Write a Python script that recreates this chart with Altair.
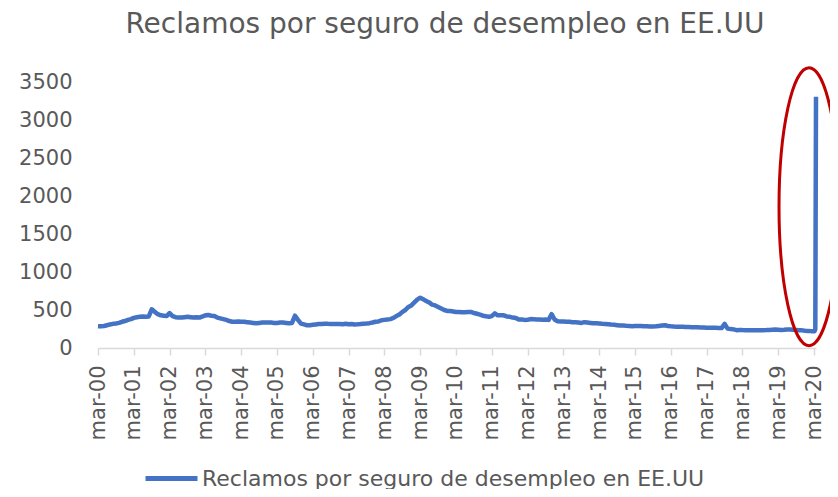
import altair as alt
import pandas as pd

titulo = "Reclamos por seguro de desempleo en EE.UU"
serie = "Reclamos por seguro de desempleo en EE.UU"

# Reclamos (miles), valores mensuales
r2000 = [287, 285, 290, 300, 310, 318, 322, 330, 345, 355]  # mar-dic
r2001 = [370, 380, 396, 405, 410, 415, 410, 415, 510, 475, 445, 430]
r2002 = [425, 420, 460, 420, 405, 400, 400, 405, 410, 405, 400, 405]
r2003 = [400, 415, 430, 435, 425, 420, 400, 390, 380, 370, 355, 345]
r2004 = [345, 350, 345, 345, 340, 335, 330, 325, 330, 335, 335, 335]
r2005 = [335, 330, 330, 335, 335, 330, 325, 330, 425, 370, 320, 310]
r2006 = [300, 300, 305, 310, 315, 315, 320, 318, 317, 315, 317, 315]
r2007 = [313, 320, 313, 315, 310, 312, 315, 320, 322, 327, 335, 345]
r2008 = [350, 365, 370, 375, 380, 395, 420, 440, 475, 500, 540, 560]
r2009 = [600, 640, 660, 640, 620, 600, 570, 560, 540, 520, 500, 487]
r2010 = [487, 480, 474, 474, 470, 472, 474, 474, 460, 450, 440, 425]
r2011 = [417, 410, 420, 455, 430, 430, 430, 415, 410, 400, 395, 374]
r2012 = [374, 370, 372, 380, 378, 376, 374, 372, 374, 370, 445, 375]
r2013 = [352, 350, 350, 345, 345, 340, 338, 335, 330, 340, 335, 330]
r2014 = [325, 325, 322, 318, 315, 312, 308, 305, 300, 295, 295, 292]
r2015 = [290, 287, 290, 290, 288, 285, 285, 283, 283, 285, 290, 295]
r2016 = [300, 290, 285, 282, 280, 278, 278, 276, 275, 272, 272, 272]
r2017 = [270, 270, 268, 268, 265, 265, 262, 262, 317, 255, 250, 245]
r2018 = [235, 238, 236, 235, 235, 234, 232, 233, 234, 235, 236, 238]
r2019 = [240, 242, 240, 238, 240, 244, 244, 240, 238, 235, 232, 228]
r2020 = [225, 222]  # ene-feb

marzo2020_fechas = ["2020-03-07", "2020-03-14", "2020-03-21"]
marzo2020_valores = [222, 250, 3307]

y_ticks = [0, 500, 1000, 1500, 2000, 2500, 3000, 3500]
anios_ticks = list(range(2000, 2021))

# Anotación (elipse roja)
elipse_fecha = ["2020-01-10"]
elipse_valor = [1860]

mensual = (r2000 + r2001 + r2002 + r2003 + r2004 + r2005 + r2006 + r2007 + r2008
           + r2009 + r2010 + r2011 + r2012 + r2013 + r2014 + r2015 + r2016
           + r2017 + r2018 + r2019 + r2020)
fechas = [d.strftime("%Y-%m-%dT00:00:00") for d in pd.date_range("2000-03-01", periods=len(mensual), freq="MS")]
fechas += [f + "T00:00:00" for f in marzo2020_fechas]
valores = mensual + marzo2020_valores

df = pd.DataFrame({"fecha": fechas, "valor": valores, "serie": serie})
df_el = pd.DataFrame({"fecha": [f + "T00:00:00" for f in elipse_fecha], "valor": elipse_valor})

gris = "#595959"
fuente = "DejaVu Sans"

x_scale = alt.Scale(domain=[alt.DateTime(year=2000, month=3, date=1),
                            alt.DateTime(year=2020, month=3, date=21)])
y_scale = alt.Scale(domain=[0, 3500], nice=False)

x_axis = alt.Axis(values=[alt.DateTime(year=a, month=3, date=1) for a in anios_ticks],
                  labelExpr="'mar-' + timeFormat(datum.value, '%y')",
                  labelAngle=-90, labelFont=fuente, labelFontSize=21, labelColor=gris,
                  labelPadding=10, domainColor="#D9D9D9", domainWidth=1.5,
                  tickColor="#D9D9D9", tickWidth=1.5, tickSize=7, grid=False,
                  labelOverlap=False, title=None)
y_axis = alt.Axis(values=y_ticks, format="d", labelFont=fuente, labelFontSize=21,
                  labelColor=gris, domain=False, ticks=False, tickSize=0,
                  labelPadding=26, grid=False, labelOverlap=False, title=None)

linea = alt.Chart(df).mark_line(strokeWidth=4.5, strokeJoin="round", clip=False).encode(
    x=alt.X("fecha:T", scale=x_scale, axis=x_axis),
    y=alt.Y("valor:Q", scale=y_scale, axis=y_axis),
    color=alt.Color("serie:N", scale=alt.Scale(range=["#4472C4"]),
                    legend=alt.Legend(title=None, orient="none", legendX=45, legendY=368,
                                      symbolType="stroke", symbolSize=2704, symbolStrokeWidth=5,
                                      labelFont=fuente, labelFontSize=22, labelColor=gris,
                                      labelOffset=2, padding=0, labelLimit=800)),
)

elipse_path = "M 0 -1 A 0.216 1 0 0 1 0 1 A 0.216 1 0 0 1 0 -1 Z"
elipse = alt.Chart(df_el).mark_point(shape=elipse_path, size=77284, filled=False,
                                     stroke="#C00000", strokeWidth=3, opacity=1,
                                     clip=False).encode(
    x=alt.X("fecha:T", scale=x_scale, axis=x_axis),
    y=alt.Y("valor:Q", scale=y_scale, axis=y_axis),
)

chart = alt.layer(linea, elipse).properties(
    width=718, height=266,
    title=alt.TitleParams(titulo, font=fuente, fontSize=28, fontWeight="normal", color=gris,
                          anchor="middle", dx=-12, offset=23),
    padding={"left": 90, "top": 74, "right": 14, "bottom": 141},
    autosize=alt.AutoSizeParams(type="none"),
    background="white",
).configure_view(stroke=None)

chart.save("out.html", embed_options={"renderer": "svg", "actions": False})
